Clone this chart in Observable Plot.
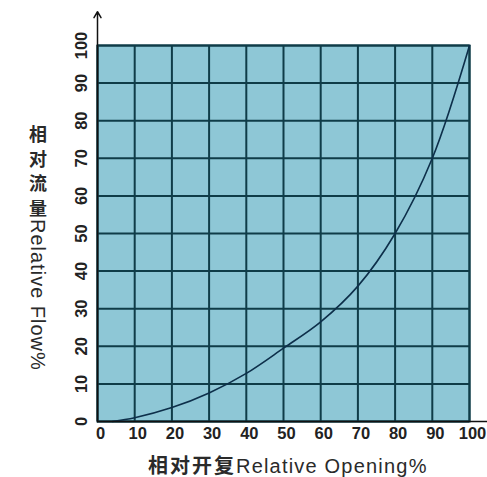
<!DOCTYPE html>
<html><head><meta charset="utf-8">
<script src="https://cdn.jsdelivr.net/npm/d3@7"></script>
<script src="https://cdn.jsdelivr.net/npm/@observablehq/plot@0.6"></script>
<style>body{margin:0;background:#fff;font-family:"Liberation Sans",Arial,sans-serif}</style>
</head><body><div id="chart"></div>
<script>
const opening = [4, 10, 20, 30, 40, 50, 60, 70, 80, 90, 100];
const flow = [0, 1, 3.7, 7.6, 12.8, 19.5, 26.5, 36, 50, 70, 100];
const ticks = [0, 10, 20, 30, 40, 50, 60, 70, 80, 90, 100];
const xLabelCJK = "相对开复";
const xLabelLatin = "Relative Opening%";
const yLabelCJK = "相对流量";
const yLabelLatin = "Relative Flow%";
const curve = opening.map((x, i) => ({x, y: flow[i]}));
const yAxisArrow = [{x1: 0, y1: 0, x2: 0, y2: 109}];
const xAxisLine = [{x1: 0, x2: 105, y: 0}];

const grid = "#0f3c48";
const font = "'Liberation Sans', 'Noto Sans CJK SC', Arial, sans-serif";
const chart = Plot.plot({
  width: 487, height: 477,
  marginLeft: 97, marginRight: 18, marginTop: 45, marginBottom: 56,
  x: {domain: [0, 100]},
  y: {domain: [0, 100]},
  style: {fontFamily: font, background: "transparent", overflow: "visible"},
  marks: [
    Plot.frame({fill: "#8ec7d6", stroke: grid, strokeWidth: 2}),
    Plot.ruleX(ticks, {stroke: grid, strokeWidth: 2}),
    Plot.ruleY(ticks, {stroke: grid, strokeWidth: 2}),
    Plot.line(curve, {x: "x", y: "y", curve: "catmull-rom", stroke: "#0d2f4a", strokeWidth: 1.6}),
    Plot.arrow(yAxisArrow, {x1: "x1", y1: "y1", x2: "x2", y2: "y2", stroke: "#111", strokeWidth: 1.5, headLength: 7, clip: false}),
    Plot.ruleY(xAxisLine, {x1: "x1", x2: "x2", y: "y", stroke: "#111", strokeWidth: 1.5, clip: false}),
    Plot.axisX(ticks, {tickSize: 0, tickPadding: 6, dx: 3, fontSize: 16.5, fontWeight: "bold", fill: "#222", label: null}),
    Plot.axisY(ticks, {tickSize: 0, tickPadding: 16, rotate: -90, textAnchor: "middle", fontSize: 16.5, fontWeight: "bold", fill: "#222", label: null})
  ]
});
const svg = d3.select(chart);
// x label
const xl = svg.append("text").attr("x", 148).attr("y", 473)
  .attr("text-anchor", "start").attr("font-family", font)
  .attr("font-size", 20).attr("fill", "#2a2a2a");
xl.append("tspan").attr("font-weight", 600).attr("letter-spacing", 2).text(xLabelCJK);
xl.append("tspan").attr("letter-spacing", 1.2).text(xLabelLatin);
// vertical y label: CJK upright, Latin rotated clockwise
const yl = svg.append("g").attr("font-family", font).attr("fill", "#2a2a2a");
Array.from(yLabelCJK).forEach((ch, i) => {
  yl.append("text").attr("x", 38).attr("y", 135 + i * 24.5)
    .attr("text-anchor", "middle").attr("dominant-baseline", "central")
    .attr("font-size", 18).attr("font-weight", 600).text(ch);
});
yl.append("text").attr("transform", "translate(38,219) rotate(90)")
  .attr("text-anchor", "start").attr("dominant-baseline", "central")
  .attr("font-size", 20).attr("letter-spacing", 1).text(yLabelLatin);
document.getElementById("chart").appendChild(chart);
</script></body></html>
